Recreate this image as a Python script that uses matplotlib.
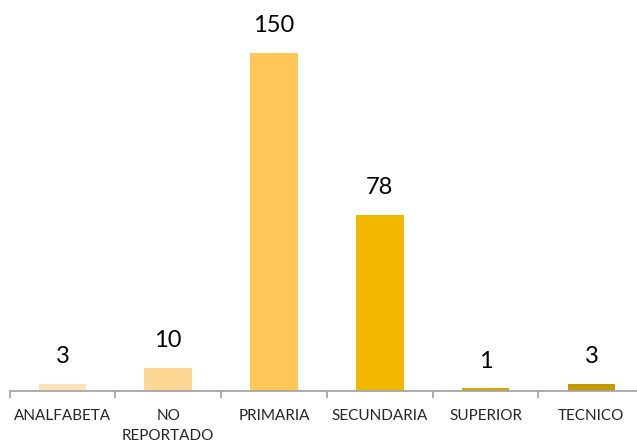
import matplotlib
matplotlib.use("Agg")
import matplotlib.pyplot as plt
import numpy as np

categories = ["ANALFABETA", "NO\nREPORTADO", "PRIMARIA", "SECUNDARIA", "SUPERIOR", "TECNICO"]
values = [3, 10, 150, 78, 1, 3]
colors = ["#FDE3BD", "#FFD794", "#FFC658", "#F2B800", "#D9A400", "#C49A00"]

plt.rcParams['font.family'] = ['Lato', 'DejaVu Sans']

fig = plt.figure(figsize=(6.37, 4.45), dpi=100)
W, H = 637, 445
left, right, bottom, top = 9.5, 644.3, 390.5, 0
ax = fig.add_axes([left / W, (H - bottom) / H, (right - left) / W, (bottom - top) / H])

x = np.arange(len(categories))
ax.bar(x, values, width=0.45, color=colors, zorder=2)
ax.set_xlim(-0.5, len(categories) - 0.5)
ax.set_ylim(0, 173.6)

for xi, v in zip(x, values):
    ax.annotate(str(v), (xi, v), xytext=(0, 12), textcoords="offset points",
                ha="center", va="bottom", fontsize=17, color="#000000")

for s in ["top", "right", "left"]:
    ax.spines[s].set_visible(False)
ax.spines["bottom"].set_color("#A6A6A6")
ax.spines["bottom"].set_linewidth(1.3)
ax.spines["bottom"].set_zorder(3)
ax.set_yticks([])

ax.set_xticks(np.arange(len(categories) + 1) - 0.5, minor=False)
ax.set_xticklabels([])
ax.tick_params(axis="x", which="major", length=5, color="#A6A6A6", width=1.3)
ax.set_xticks(x, minor=True)
ax.set_xticklabels(categories, minor=True, fontsize=11, color="#262626", linespacing=1.55)
ax.tick_params(axis="x", which="minor", length=0, pad=13)

fig.savefig("out.png", dpi=100)
